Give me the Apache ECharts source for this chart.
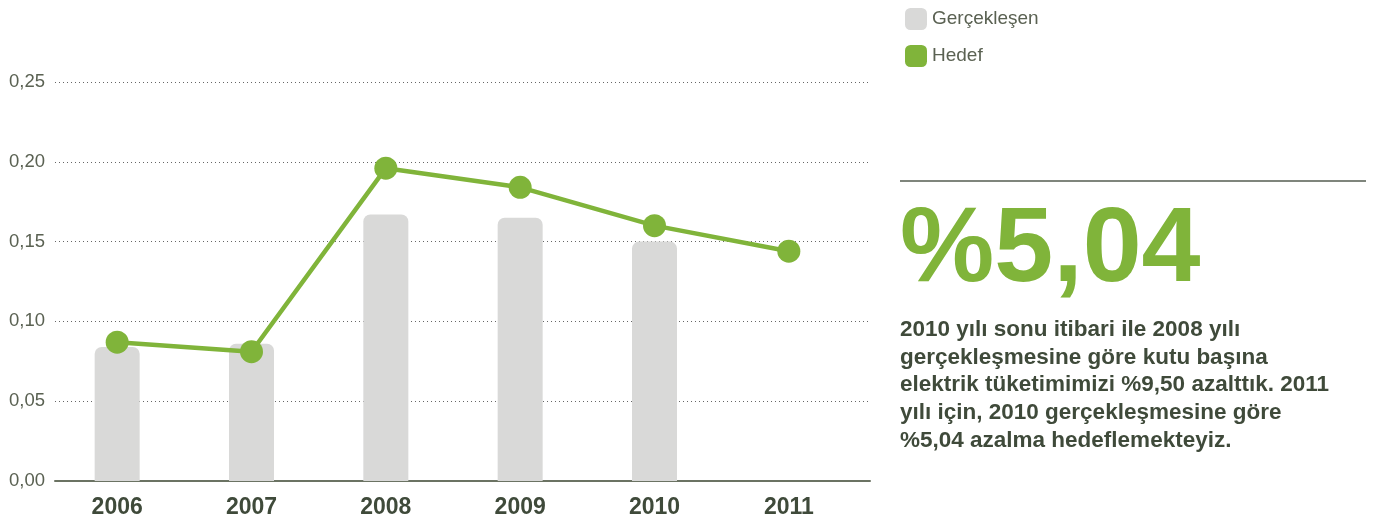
<!DOCTYPE html>
<html>
<head>
<meta charset="utf-8">
<script src="https://cdn.jsdelivr.net/npm/echarts@6/dist/echarts.min.js"></script>
<style>
  html, body { margin: 0; padding: 0; background: #fff; }
  #main { width: 1373px; height: 524px; }
</style>
</head>
<body>
<div id="main"></div>
<script>
var years = ['2006', '2007', '2008', '2009', '2010', '2011'];
var gerceklesen = [0.084, 0.086, 0.167, 0.165, 0.150, null];
var hedef = [0.087, 0.081, 0.196, 0.184, 0.160, 0.144];

var green = '#80b43a';
var grey = '#d9d9d8';
var dark = '#3f4a3a';
var font = 'Liberation Sans, Arial, Helvetica, sans-serif';

var myChart = echarts.init(document.getElementById('main'));

var option = {
    animation: false,
    textStyle: { fontFamily: font },
    legend: {
        orient: 'vertical',
        left: 900,
        top: 3,
        itemWidth: 22,
        itemHeight: 22,
        itemGap: 15,
        icon: 'roundRect',
        textStyle: { fontSize: 19, color: '#5a6152', fontFamily: font },
        data: ['Gerçekleşen', 'Hedef']
    },
    grid: [
        { left: 55, right: 503, top: 82, bottom: 43 },
        { left: 50, width: 806, top: 82, bottom: 43 }
    ],
    xAxis: [
        {
            gridIndex: 0,
            type: 'category',
            data: years,
            axisLine: { show: true, lineStyle: { color: '#6b7363', width: 2 } },
            axisTick: { show: false },
            axisLabel: { show: false },
            splitLine: { show: false }
        },
        {
            gridIndex: 1,
            type: 'category',
            data: years,
            axisLine: { show: false },
            axisTick: { show: false },
            axisLabel: {
                margin: 15,
                fontSize: 23,
                fontWeight: 'bold',
                color: dark,
                fontFamily: font
            }
        }
    ],
    yAxis: [
        {
            gridIndex: 0,
            type: 'value',
            min: 0,
            max: 0.25,
            interval: 0.05,
            axisLine: { show: false },
            axisTick: { show: false },
            axisLabel: {
                margin: 10,
                fontSize: 18.5,
                color: '#5a6152',
                fontFamily: font,
                formatter: function (v) { return v.toFixed(2).replace('.', ','); }
            },
            splitLine: { show: true, lineStyle: { type: [1, 3], color: '#666', width: 1 } }
        },
        {
            gridIndex: 1,
            type: 'value',
            min: 0,
            max: 0.25,
            interval: 0.05,
            show: false,
            splitLine: { show: false }
        }
    ],
    series: [
        {
            name: 'Gerçekleşen',
            type: 'bar',
            xAxisIndex: 1,
            yAxisIndex: 1,
            data: gerceklesen,
            barWidth: 45,
            itemStyle: { color: grey, borderRadius: [7, 7, 0, 0] }
        },
        {
            name: 'Hedef',
            type: 'line',
            xAxisIndex: 1,
            yAxisIndex: 1,
            data: hedef,
            symbol: 'circle',
            symbolSize: 23,
            z: 5,
            lineStyle: { color: green, width: 4.5 },
            itemStyle: { color: green }
        }
    ],
    graphic: [
        {
            type: 'line',
            shape: { x1: 900, y1: 181, x2: 1366, y2: 181 },
            style: { stroke: '#555d50', lineWidth: 1.5 }
        },
        {
            type: 'text',
            left: 900,
            top: 199,
            style: {
                text: '%5,04',
                fill: green,
                font: 'bold 106px ' + font
            }
        },
        {
            type: 'text',
            left: 900,
            top: 316,
            style: {
                text: '2010 yılı sonu itibari ile 2008 yılı\ngerçekleşmesine göre kutu başına\nelektrik tüketimimizi %9,50 azalttık. 2011\nyılı için, 2010 gerçekleşmesine göre\n%5,04 azalma hedeflemekteyiz.',
                fill: dark,
                font: 'bold 22.5px ' + font,
                lineHeight: 27.7
            }
        }
    ]
};

myChart.setOption(option);
</script>
</body>
</html>
